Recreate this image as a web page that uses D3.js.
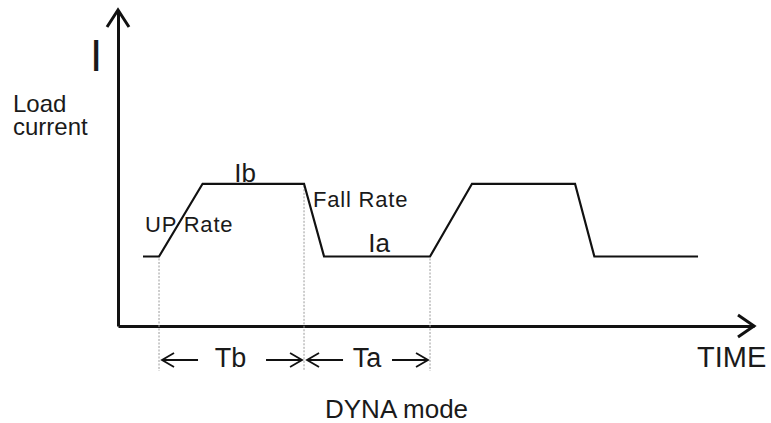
<!DOCTYPE html>
<html>
<head>
<meta charset="utf-8">
<script src="https://cdn.jsdelivr.net/npm/d3@7"></script>
<style>
  html, body { margin: 0; padding: 0; background: #fff; }
  svg { display: block; }
  text { font-family: "Liberation Sans", Arial, Helvetica, sans-serif; fill: #1a1a1a; }
</style>
</head>
<body>
<svg id="chart" width="771" height="423"></svg>
<script>
// ---- data ----
const timePoints    = [3.93, 6.45, 13.3, 29.25, 32.4, 49.06, 55.66, 71.86, 74.9, 91.2];
const currentLevels = [22, 22, 45, 45, 22, 22, 45, 45, 22, 22];
const markerTimes   = [6.45, 29.25, 49.06];
const markerLevels  = [22, 45, 22];
const periodLabels  = ["Tb", "Ta"];
const levelLabels   = ["Ib", "Ia"];
const rateLabels    = ["UP Rate", "Fall Rate"];
const axisLabels    = { y: "I", yTitle: ["Load", "current"], x: "TIME", caption: "DYNA mode" };

// ---- scales ----
const svg = d3.select("#chart");
svg.append("rect").attr("width", 771).attr("height", 423).attr("fill", "#fff");

const x = d3.scaleLinear().domain([0, 100]).range([118, 754]);
const y = d3.scaleLinear().domain([0, 100]).range([326, 10]);
const ink = "#111";

// ---- axes (no ticks) ----
const gx = svg.append("g").attr("transform", `translate(0,${y(0)})`)
  .call(d3.axisBottom(x).tickValues([]).tickSizeOuter(0));
gx.select(".domain").attr("stroke", ink).attr("stroke-width", 3);

const gy = svg.append("g").attr("transform", `translate(${x(0)},0)`)
  .call(d3.axisLeft(y).tickValues([]).tickSizeOuter(0));
gy.select(".domain").attr("stroke", ink).attr("stroke-width", 3);

// arrowheads
const ax = x(100), ay = y(0);
svg.append("path")
  .attr("d", `M${ax - 16},${ay - 11}L${ax},${ay}L${ax - 16},${ay + 11}`)
  .attr("fill", "none").attr("stroke", ink).attr("stroke-width", 3)
  .attr("stroke-linejoin", "miter");
const bx = x(0), by = y(100);
svg.append("path")
  .attr("d", `M${bx - 11},${by + 17}L${bx},${by}L${bx + 11},${by + 17}`)
  .attr("fill", "none").attr("stroke", ink).attr("stroke-width", 3)
  .attr("stroke-linejoin", "miter");

// ---- dotted markers ----
const markerBottom = y(0) + 45;
svg.selectAll("line.marker").data(markerTimes).join("line")
  .attr("class", "marker")
  .attr("x1", d => x(d)).attr("x2", d => x(d))
  .attr("y1", (d, i) => y(markerLevels[i]) + 2).attr("y2", markerBottom)
  .attr("stroke", "#9a9a9a").attr("stroke-width", 1)
  .attr("stroke-dasharray", "2,1.5");

// ---- waveform ----
const line = d3.line().x((d, i) => x(d)).y((d, i) => y(currentLevels[i]));
svg.append("path")
  .attr("d", line(timePoints))
  .attr("fill", "none").attr("stroke", ink).attr("stroke-width", 2.2)
  .attr("stroke-linejoin", "miter");

// ---- period arrows ----
const arrowY = y(0) + 34;
function arrow(x1, x2) {
  const dir = Math.sign(x2 - x1);
  svg.append("line").attr("x1", x1).attr("x2", x2).attr("y1", arrowY).attr("y2", arrowY)
    .attr("stroke", ink).attr("stroke-width", 1.8);
  svg.append("path")
    .attr("d", `M${x2 - dir * 12},${arrowY - 7}L${x2},${arrowY}L${x2 - dir * 12},${arrowY + 7}`)
    .attr("fill", "none").attr("stroke", ink).attr("stroke-width", 1.8);
}
for (let i = 0; i < periodLabels.length; i++) {
  const a = x(markerTimes[i]), b = x(markerTimes[i + 1]);
  arrow(a + 36 + 3, a + 3);
  arrow(b - 38, b - 2);
  svg.append("text").attr("x", (a + b) / 2 + (i === 0 ? -1 : 0)).attr("y", arrowY + 7)
    .attr("text-anchor", "middle").attr("font-size", 27).text(periodLabels[i]);
}

// ---- labels ----
svg.append("text").attr("x", 245).attr("y", 182).attr("text-anchor", "middle")
  .attr("font-size", 26).text(levelLabels[0]);
svg.append("text").attr("x", 379).attr("y", 252).attr("text-anchor", "middle")
  .attr("font-size", 26).text(levelLabels[1]);
svg.append("text").attr("x", 145).attr("y", 232).attr("font-size", 22)
  .attr("letter-spacing", 0.8).text(rateLabels[0]);
svg.append("text").attr("x", 313).attr("y", 207).attr("font-size", 22)
  .attr("letter-spacing", 0.8).text(rateLabels[1]);

svg.append("text").attr("x", 96).attr("y", 71).attr("text-anchor", "middle")
  .attr("font-size", 44).text(axisLabels.y);
const yTitle = svg.append("text").attr("x", 13).attr("y", 112).attr("font-size", 24);
yTitle.selectAll("tspan").data(axisLabels.yTitle).join("tspan")
  .attr("x", 13).attr("dy", (d, i) => i === 0 ? 0 : 23).text(d => d);
svg.append("text").attr("x", 697).attr("y", 367).attr("font-size", 29).text(axisLabels.x);
svg.append("text").attr("x", 325).attr("y", 418).attr("font-size", 26).text(axisLabels.caption);
</script>
</body>
</html>
